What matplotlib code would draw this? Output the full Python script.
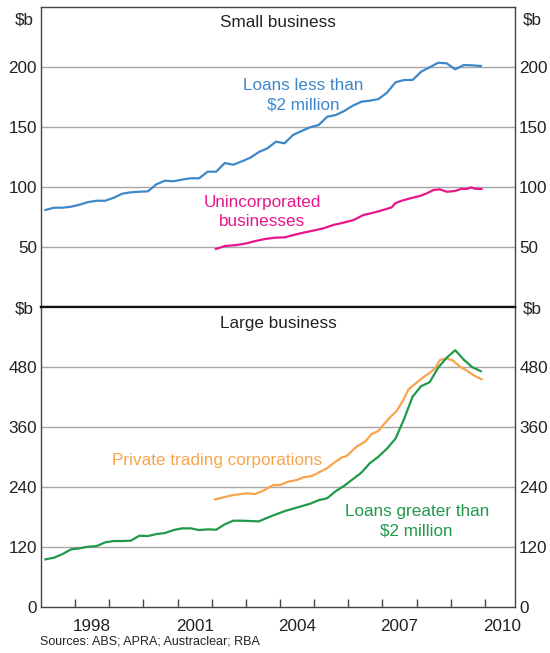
import numpy as np
import matplotlib
matplotlib.use("Agg")
import matplotlib.pyplot as plt

plt.rcParams["font.family"] = ["Liberation Sans", "DejaVu Sans"]

# quarterly series, first observation early 1997
q_start = 1997.13
small_loans = [80.6, 82.5, 82.5, 83.3, 85.0, 87.2, 88.3, 88.3, 90.8, 94.2,
               95.3, 95.8, 96.1, 102.0, 105.0, 104.5, 105.9, 107.0, 107.0, 112.5,
               112.5, 119.7, 118.3, 121.1, 124.2, 128.9, 132.0, 137.5, 136.2, 143.1,
               146.4, 149.5, 151.4, 158.3, 159.7, 163.1, 167.5, 170.8, 171.7, 173.0,
               178.3, 187.0, 188.9, 188.9, 195.8, 199.5, 203.3, 202.8, 197.8, 201.4,
               201.1, 200.6]
large_loans = [94.7, 98.0, 105.3, 114.7, 116.7, 120.0, 121.3, 128.7, 131.3, 131.3,
               132.0, 142.0, 141.3, 145.3, 147.3, 153.3, 156.7, 156.7, 153.3, 154.7,
               154.0, 164.7, 172.0, 172.0, 171.3, 170.7, 178.0, 184.7, 191.0, 196.0,
               201.0, 206.0, 213.0, 217.0, 231.0, 242.0, 255.0, 268.0, 287.0, 300.0,
               316.0, 336.0, 375.0, 420.0, 441.0, 449.0, 478.0, 498.0, 513.0, 494.0,
               479.0, 471.0]

uninc_years = [2002.12, 2002.39, 2002.73, 2003.02, 2003.27, 2003.56, 2003.85, 2004.14,
               2004.39, 2004.68, 2004.97, 2005.27, 2005.56, 2005.85, 2006.15, 2006.44,
               2006.73, 2007.02, 2007.27, 2007.37, 2007.56, 2007.81, 2008.10, 2008.29,
               2008.49, 2008.68, 2008.88, 2009.12, 2009.32, 2009.47, 2009.59, 2009.71,
               2009.90]
uninc = [48.1, 50.6, 51.4, 52.8, 54.7, 56.4, 57.5, 57.8, 59.7, 61.7, 63.4, 65.3,
         68.1, 70.0, 72.2, 76.4, 78.3, 80.6, 82.8, 86.1, 88.3, 90.3, 92.3, 94.4,
         97.2, 97.8, 95.8, 96.4, 98.3, 98.1, 99.5, 98.3, 98.1]

ptc_years = [2002.10, 2002.30, 2002.63, 2003.02, 2003.27, 2003.51, 2003.80, 2004.00,
             2004.24, 2004.49, 2004.68, 2004.93, 2005.12, 2005.37, 2005.56, 2005.81,
             2005.95, 2006.24, 2006.49, 2006.68, 2006.88, 2007.02, 2007.22, 2007.42,
             2007.61, 2007.76, 2007.95, 2008.15, 2008.39, 2008.54, 2008.68, 2008.88,
             2009.07, 2009.27, 2009.47, 2009.66, 2009.90]
ptc = [214.7, 218.0, 223.3, 226.7, 225.3, 232.0, 243.3, 243.3, 250.0, 253.3,
       258.7, 261.3, 268.0, 276.7, 286.7, 298.7, 301.3, 320.0, 330.0, 345.3,
       351.3, 363.3, 378.7, 392.0, 413.3, 434.7, 445.3, 456.7, 468.0, 476.7,
       493.3, 496.7, 492.0, 480.0, 472.0, 463.3, 454.7]

top_ticks = [50, 100, 150, 200]
bottom_ticks = [0, 120, 240, 360, 480]
year_ticks = list(range(1998, 2011))
year_labels = [1998, 2001, 2004, 2007, 2010]

BLUE = "#3f87c9"
PINK = "#e8168c"
ORANGE = "#f7a54c"
GREEN = "#21994a"
GRID = "#a6a6a6"
EDGE = "#444444"
TXT = "#222222"
FS = 12.3

q_x = [q_start + 0.25 * i for i in range(len(small_loans))]

fig = plt.figure(figsize=(5.5, 6.53), dpi=100)
L, R = 41 / 550, 515 / 550
ax1 = fig.add_axes([L, 1 - 306.7 / 653, R - L, (306.7 - 6.7) / 653])
ax2 = fig.add_axes([L, 1 - 606.7 / 653, R - L, 300 / 653])

for ax in (ax1, ax2):
    ax.set_xlim(1997.0, 2010.88)
    for s in ax.spines.values():
        s.set_color(EDGE)
        s.set_linewidth(1.0)
    ax.tick_params(axis="y", length=0, labelsize=FS, colors=TXT,
                   left=False, right=False, labelleft=True, labelright=True, pad=3)

# top panel
ax1.set_ylim(0, 250)
ax1.set_yticks(top_ticks)
for t in top_ticks:
    ax1.axhline(t, color=GRID, linewidth=1.0, zorder=1)
ax1.plot(q_x, small_loans, color=BLUE, linewidth=1.6, zorder=3)
ax1.plot(uninc_years, uninc, color=PINK, linewidth=1.6, zorder=3)
ax1.set_xticks([])
ax1.spines["bottom"].set_color("#111111")
ax1.spines["bottom"].set_linewidth(1.6)
ax1.text(0.5, 0.948, "Small business", transform=ax1.transAxes,
         ha="center", va="center", fontsize=FS, color=TXT)
ax1.text(2004.67, 176, "Loans less than\n$2 million", ha="center", va="center",
         fontsize=FS, color=BLUE, linespacing=1.35)
ax1.text(2003.48, 79, "Unincorporated\nbusinesses", ha="center", va="center",
         fontsize=FS, color=PINK, linespacing=1.35)

# bottom panel
ax2.set_ylim(0, 600)
ax2.set_yticks(bottom_ticks)
for t in bottom_ticks[1:]:
    ax2.axhline(t, color=GRID, linewidth=1.0, zorder=1)
ax2.plot(ptc_years, ptc, color=ORANGE, linewidth=1.6, zorder=3)
ax2.plot(q_x, large_loans, color=GREEN, linewidth=1.6, zorder=4)
ax2.spines["top"].set_color("#111111")
ax2.spines["top"].set_linewidth(1.6)
ax2.set_xticks(year_ticks)
ax2.set_xticklabels([])
ax2.set_xticks([y + 0.5 for y in year_labels], minor=True)
ax2.set_xticklabels([str(y) for y in year_labels], minor=True)
ax2.tick_params(axis="x", which="major", direction="in", length=6,
                color=EDGE, width=1.0)
ax2.tick_params(axis="x", which="minor", length=0, labelsize=FS,
                colors=TXT, pad=9)
ax2.text(0.5, 0.943, "Large business", transform=ax2.transAxes,
         ha="center", va="center", fontsize=FS, color=TXT)
ax2.text(2002.15, 293, "Private trading corporations", ha="center", va="center",
         fontsize=FS, color=ORANGE)
ax2.text(2008.0, 171, "Loans greater than\n$2 million", ha="center", va="center",
         fontsize=FS, color=GREEN, linespacing=1.35)

# unit labels
for yy in (20, 309):
    fig.text(24 / 550, 1 - yy / 653, "$b", ha="center", va="center",
             fontsize=FS, color=TXT)
    fig.text(532 / 550, 1 - yy / 653, "$b", ha="center", va="center",
             fontsize=FS, color=TXT)

fig.text(40 / 550, 1 - 642 / 653, "Sources: ABS; APRA; Austraclear; RBA",
         ha="left", va="center", fontsize=9.0, color=TXT)

fig.savefig("out.png", dpi=100, facecolor="white")
plt.close(fig)
